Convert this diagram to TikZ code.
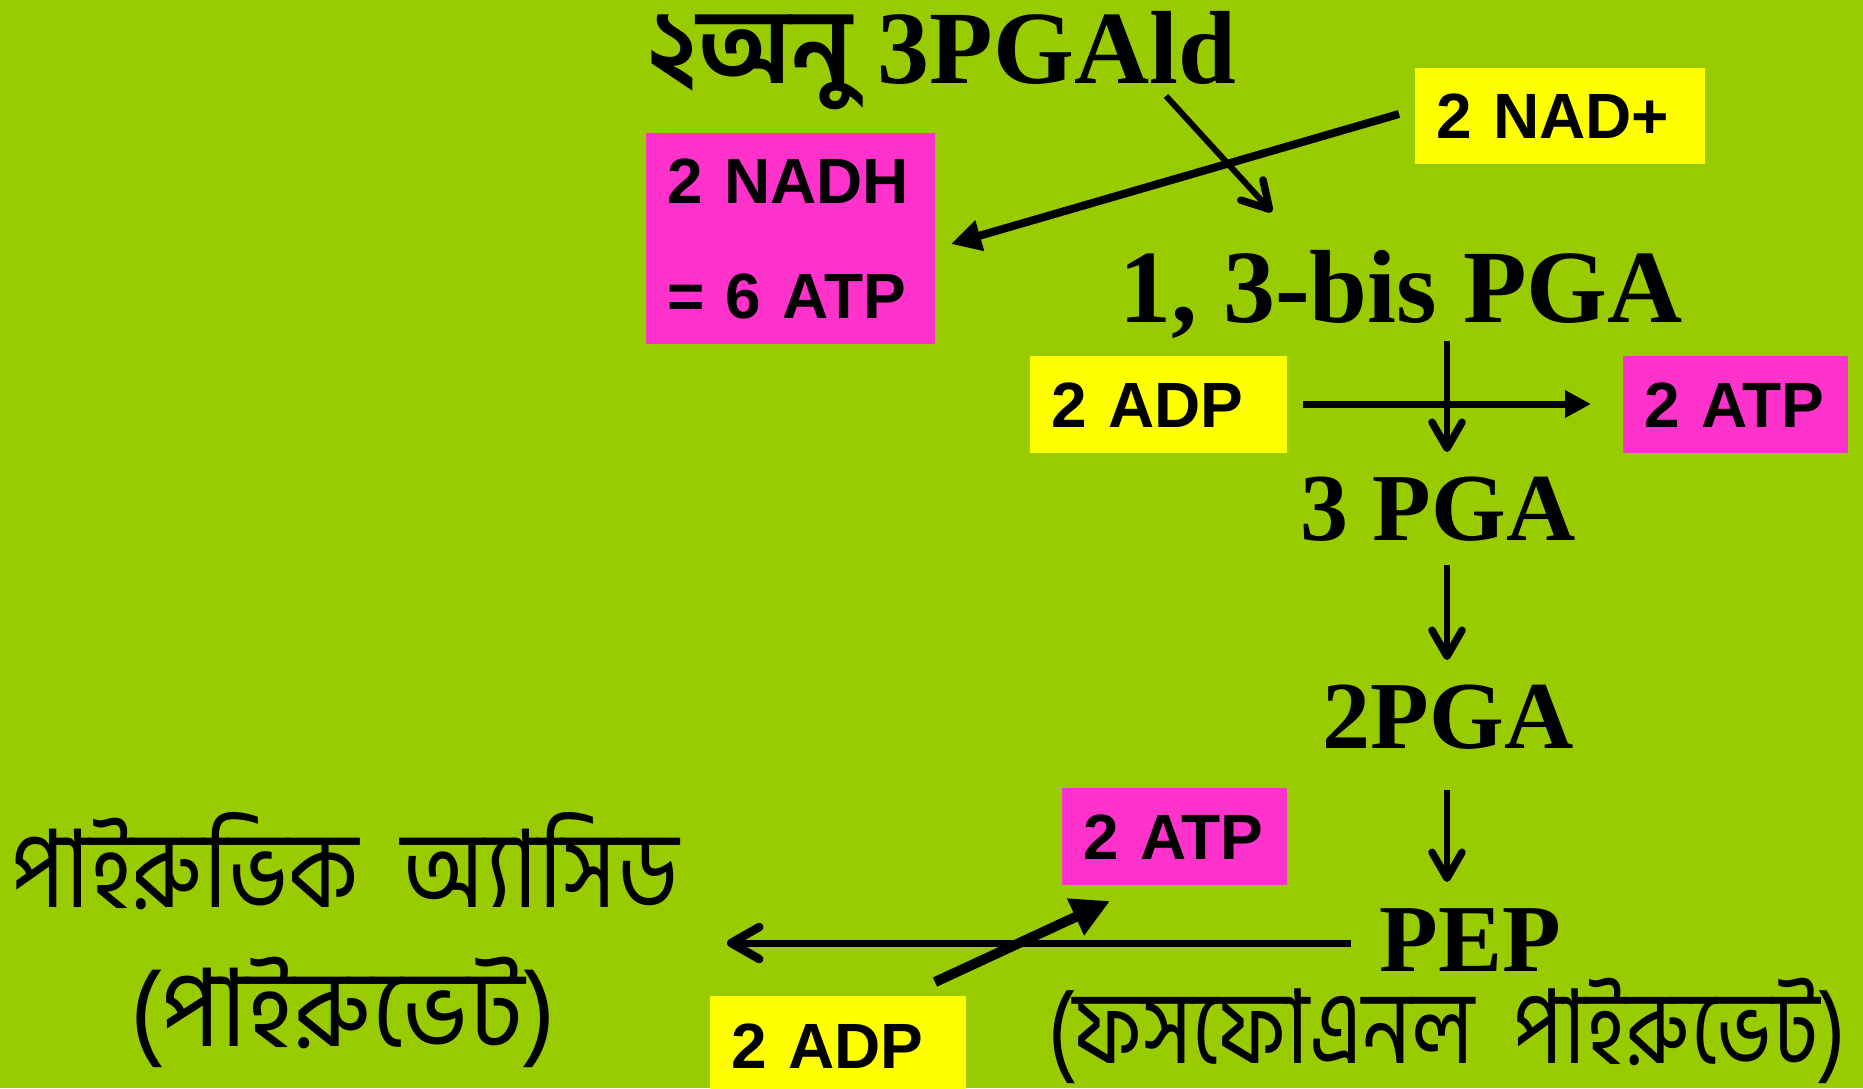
\documentclass[tikz,border=0pt]{standalone}
\usepackage{fontspec}
\setmainfont{Liberation Serif}
\newfontfamily\bnfont[Script=Bengali]{Hind Siliguri}
% narrowed cuts of the Bengali face for the tall labels
\newfontfamily\bnpyr[Script=Bengali,FakeStretch=0.87]{Hind Siliguri}
\newfontfamily\bnpyrname[Script=Bengali,FakeStretch=0.957]{Hind Siliguri}
\newfontfamily\bnpep[Script=Bengali,FakeStretch=0.845]{Hind Siliguri}
\newfontfamily\tagfont{Liberation Sans}
\usetikzlibrary{arrows.meta}
\definecolor{leaf}{RGB}{153,204,0}
\definecolor{lemon}{RGB}{255,255,0}
\definecolor{rose}{RGB}{255,51,204}

\begin{document}
\begin{tikzpicture}[x=1pt,y=-1pt,
  big/.style={inner sep=0pt, font=\fontsize{104}{110}\selectfont\bfseries},
  mid/.style={inner sep=0pt, font=\fontsize{96}{100}\selectfont\bfseries},
  bntext/.style={inner sep=0pt, anchor=base},
  tag/.style={inner xsep=21pt, inner ysep=0pt, anchor=north west, align=left,
    font=\fontsize{64}{115}\selectfont\tagfont\bfseries},
  ybox/.style={tag, fill=lemon},
  pbox/.style={tag, fill=rose},
  flow/.style={line width=6pt, -{Straight Barb[length=26pt,width=30pt,line width=7.5pt,round]}},
  push/.style={line width=7pt, -{Triangle[length=26pt,width=26pt]}}
]
% background and page frame
\fill[leaf] (0,0) rectangle (1863,1088);
\useasboundingbox (0,0) rectangle (1863,1088);

% substrates of the pathway
\node[big, anchor=base east] (ald) at (1236,83) {{\bnfont ২অনু} 3PGAld};
\node[big, anchor=base] (bis) at (1401,322) {1, 3-bis PGA};
\node[mid, anchor=base] (pga3) at (1438,540) {3 PGA};
\node[mid, anchor=base] (pga2) at (1448,748) {2PGA};
\node[mid, anchor=base] (pep) at (1470,971) {PEP};
\node[bntext, font=\fontsize{103}{110}\selectfont\bnpep] (pepname) at (1447,1063) {(ফসফোএনল\ \ পাইরুভেট)};
\node[bntext, font=\fontsize{108}{115}\selectfont\bnpyr] (pyr) at (345,907) {পাইরুভিক\ \ অ্যাসিড};
\node[bntext, font=\fontsize{108}{115}\selectfont\bnpyrname] (pyrname) at (343,1046) {(পাইরুভেট)};

% cofactor boxes
\node[ybox, text width=248pt, minimum height=96pt] (nad) at (1415,68) {2 NAD+};
\node[pbox, text width=247pt, minimum height=211pt] (nadh) at (646,133) {2 NADH\\= 6 ATP};
\node[ybox, text width=215pt, minimum height=97pt] (adp1) at (1030,356) {2 ADP};
\node[pbox, text width=183pt, minimum height=97pt] (atp1) at (1623,356) {2 ATP};
\node[pbox, text width=183pt, minimum height=97pt] (atp2) at (1062,788) {2 ATP};
\node[ybox, text width=214pt, minimum height=100pt] (adp2) at (710,996) {2 ADP};

% connector end points
\coordinate (ald-out) at (1166,96);
\coordinate (bis-in) at (1272,212);
\coordinate (nad-out) at (1399,114);
\coordinate (nadh-in) at (951,244);
\coordinate (bis-out) at (1447,341);
\coordinate (pga3-in) at (1447,452);
\coordinate (adp1-out) at (1303,404);
\coordinate (atp1-in) at (1591,404);
\coordinate (pga3-out) at (1447,565);
\coordinate (pga2-in) at (1447,660);
\coordinate (pga2-out) at (1447,790);
\coordinate (pep-in) at (1447,882);
\coordinate (pep-out) at (1351,943);
\coordinate (pyr-in) at (727,943);
\coordinate (adp2-out) at (935,982);
\coordinate (atp2-in) at (1110,901);

% reactions
\draw[flow] (ald-out) -- (bis-in);
\draw[push, line width=8pt, -{Triangle[length=30pt,width=30pt]}] (nad-out) -- (nadh-in);
\draw[push] (adp1-out) -- (atp1-in);
\draw[flow] (bis-out) -- (pga3-in);
\draw[flow] (pga3-out) -- (pga2-in);
\draw[flow] (pga2-out) -- (pep-in);
\draw[flow, line width=7pt, -{Straight Barb[length=28pt,width=32pt,line width=8.5pt,round]}] (pep-out) -- (pyr-in);
\draw[push, line width=10pt, -{Triangle[length=38pt,width=38pt]}] (adp2-out) -- (atp2-in);
\end{tikzpicture}
\end{document}
